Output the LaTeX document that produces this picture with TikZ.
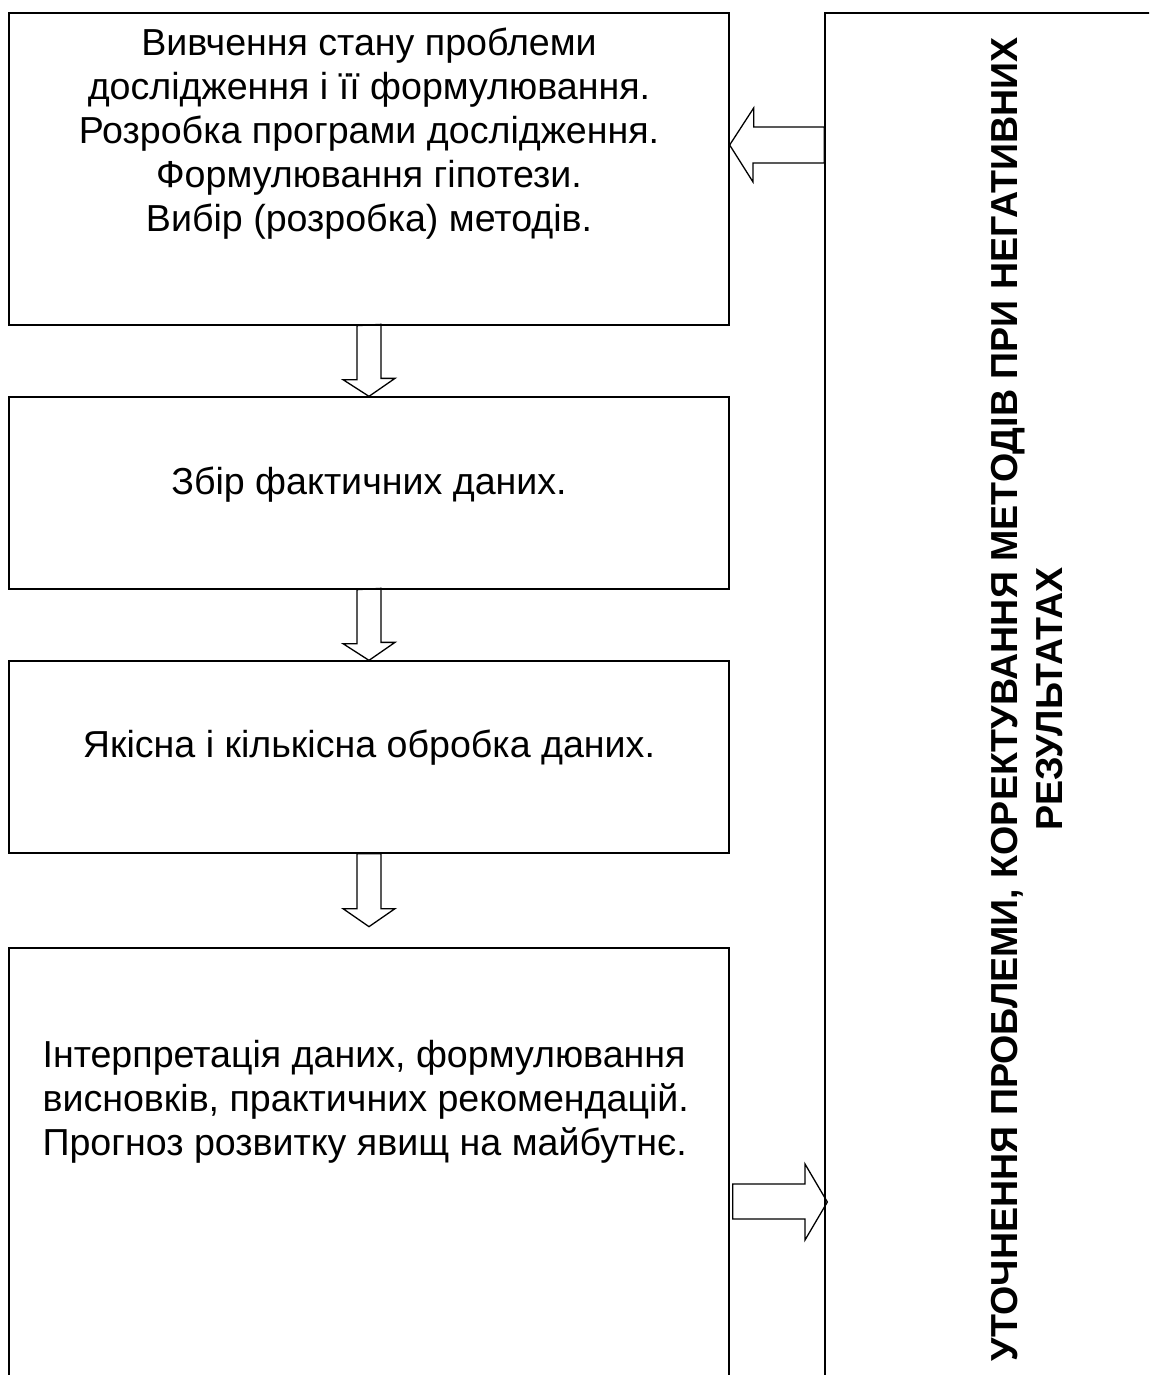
\documentclass[tikz,border=0pt]{standalone}
\usepackage{fontspec}
\setmainfont{Liberation Sans}
\usetikzlibrary{calc,positioning}

\tikzset{
  stage/.style={draw, line width=1.3pt, minimum width=720pt, inner sep=0pt},
  blockarrow/.style={draw, line width=1.3pt, line join=miter},
  stagetext/.style={font=\fontsize{37.6}{44}\selectfont, align=center, inner sep=0pt},
  sidetext/.style={font=\bfseries\fontsize{37.6}{45}\selectfont, align=center,
    rotate=90, inner sep=0pt}
}

\begin{document}
\begin{tikzpicture}[x=1pt,y=-1pt]
  \clip (0,0) rectangle (1149,1375);
  % stages
  \node[stage, minimum height=312pt] (b1) at (369,169) {};
  \node[stage, minimum height=192pt] (b2) at (369,493) {};
  \node[stage, minimum height=192pt] (b3) at (369,757) {};
  \node[stage, minimum height=480pt] (b4) at (369,1188) {};
  \node[stage, minimum width=380pt, minimum height=1420pt] (side) at (1015,723) {};
  \node[stagetext] (t1) at ($(b1.north)+(0,121)$) {Вивчення стану проблеми\\
    дослідження і її формулювання.\\ Розробка програми дослідження.\\
    Формулювання гіпотези.\\ Вибір (розробка) методів.};
  \node[stagetext] (t2) at ($(b2.north)+(0,88)$) {Збір фактичних даних.};
  \node[stagetext] (t3) at ($(b3.north)+(0,87)$) {Якісна і кількісна обробка даних.};
  \node[stagetext, align=left, anchor=west] (t4) at ($(b4.north west)+(34,154)$)
    {Інтерпретація даних, формулювання\\ висновків, практичних рекомендацій.\\
    Прогноз розвитку явищ на майбутнє.};
  \node[sidetext] (note) at (1027,699) {УТОЧНЕННЯ ПРОБЛЕМИ, КОРЕКТУВАННЯ МЕТОДІВ ПРИ НЕГАТИВНИХ\\
    РЕЗУЛЬТАТАХ};
  % arrows down
  \draw[blockarrow] (b1.south) +(-12,0) -- +(-12,54) -- +(-26,54) -- (b2.north)
    -- +(26,-18) -- +(12,-18) -- +(12,-72) -- cycle;
  \draw[blockarrow] (b2.south) +(-12,0) -- +(-12,54) -- +(-26,54) -- (b3.north)
    -- +(26,-18) -- +(12,-18) -- +(12,-72) -- cycle;
  \coordinate (e3) at ($(b3.south)+(0,73)$);
  \draw[blockarrow] (b3.south) +(-12,0) -- +(-12,55) -- +(-26,55) -- (e3)
    -- +(26,-18) -- +(12,-18) -- +(12,-73) -- cycle;
  % feedback arrows
  \coordinate (fb) at (b1.east |- 0,145);
  \draw[blockarrow] (fb) -- ++(24,-37) -- ++(0,19) -- (side.west |- 0,127)
    -- (side.west |- 0,163) -- (753,163) -- (753,182) -- cycle;
  \coordinate (fb2) at ($(side.west |- 0,1202)+(3,0)$);
  \draw[blockarrow] (fb2) -- (805,1164) -- (805,1184) -- ($(b4.east |- 0,1184)+(3,0)$)
    -- ($(b4.east |- 0,1219)+(3,0)$) -- (805,1219) -- (805,1240) -- cycle;
\end{tikzpicture}
\end{document}
